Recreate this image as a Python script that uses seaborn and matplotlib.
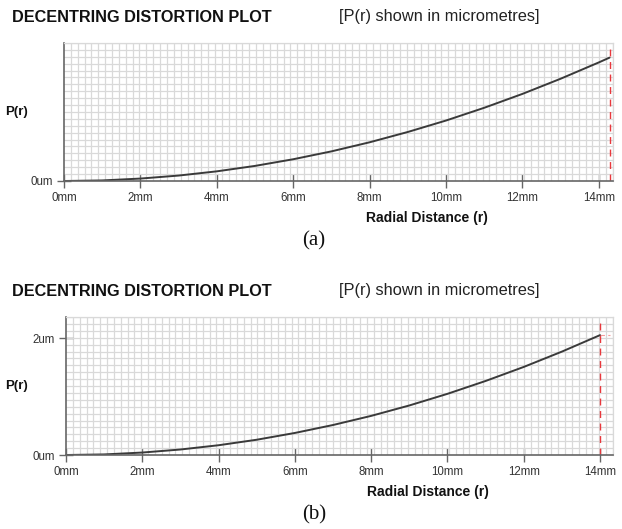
import numpy as np
import pandas as pd
import matplotlib
matplotlib.use("Agg")
import matplotlib.pyplot as plt
import seaborn as sns

# values (radius in mm, P(r) in micrometres)
radius_a = [0, 1, 2, 3, 4, 5, 6, 7, 8, 9, 10, 11, 12, 13, 14, 14.28]
p_r_a = [0, 0.007, 0.030, 0.067, 0.119, 0.186, 0.268, 0.365, 0.477, 0.604,
         0.745, 0.902, 1.073, 1.260, 1.461, 1.52]
radius_b = [0, 1, 2, 3, 4, 5, 6, 7, 8, 9, 10, 11, 12, 13, 14]
p_r_b = [0, 0.010, 0.042, 0.094, 0.167, 0.261, 0.377, 0.513, 0.669, 0.847,
         1.046, 1.266, 1.506, 1.768, 2.05]

x_ticks = [0, 2, 4, 6, 8, 10, 12, 14]
x_tick_labels = ["0mm", "2mm", "4mm", "6mm", "8mm", "10mm", "12mm", "14mm"]
y_ticks_a = [0]
y_tick_labels_a = ["0um"]
y_ticks_b = [0, 2]
y_tick_labels_b = ["0um", "2um"]
cut_a = 14.28   # red dashed marker, panel a
cut_b = 14      # red dashed marker, panel b

title = "DECENTRING DISTORTION PLOT"
subtitle = "[P(r) shown in micrometres]"

sns.set_theme(style="white")
plt.rcParams['font.family'] = ['Liberation Sans', 'DejaVu Sans']

W, H = 622, 529
fig = plt.figure(figsize=(W / 100, H / 100), dpi=100)

grid_col = "#d9d9d9"
spine_col = "#666666"
txt_col = "#333333"


def draw_panel(rect, r, p, xmax, ymax, yt, ytl, cut, top_px, tag, stub):
    ax = fig.add_axes(rect)
    df = pd.DataFrame({"r": r, "p": p})
    sns.lineplot(data=df, x="r", y="p", ax=ax, color="#3a3a3a", linewidth=1.4)
    ax.set_xlim(0, xmax)
    ax.set_ylim(0, ymax)
    # paper-like background grid
    ax.set_xticks(np.linspace(0, xmax, 81), minor=True)
    ax.set_yticks(np.linspace(0, ymax, 21), minor=True)
    ax.grid(False)
    ax.grid(True, which="minor", color=grid_col, linewidth=0.9)
    ax.set_axisbelow(True)
    ax.set_xticks(x_ticks)
    ax.set_xticklabels(x_tick_labels)
    ax.set_yticks(yt)
    ax.set_yticklabels(ytl)
    ax.tick_params(which="minor", length=0, bottom=False, left=False)
    ax.tick_params(which="major", bottom=True, left=True, direction="inout",
                   length=10, width=1, color=spine_col, labelsize=8.3,
                   labelcolor=txt_col, pad=3)
    for s in ["left", "bottom"]:
        ax.spines[s].set_color(spine_col)
        ax.spines[s].set_linewidth(1.2)
    for s in ["top", "right"]:
        ax.spines[s].set_color(grid_col)
        ax.spines[s].set_linewidth(0.9)
    ax.axvline(cut, color="#e8383d", linestyle=(0, (5, 4)), linewidth=1)
    if stub:
        ax.hlines(p[-1], cut, cut + 0.25, color="#e8383d", linestyle=(0, (4, 3)),
                  linewidth=0.8, alpha=0.5)
    ax.set_xlabel("Radial Distance (r)", fontsize=10, fontweight="bold",
                  color="#111111", va="center")
    ax.xaxis.set_label_coords(0.661, -0.268)
    ax.set_ylabel("")

    fig.text(12 / W, 1 - (top_px - 26) / H, title, fontsize=11.7,
             fontweight="bold", color="#111111", va="center", ha="left")
    fig.text(339 / W, 1 - (top_px - 26) / H, subtitle, fontsize=11.8,
             color="#222222", va="center", ha="left")
    fig.text(5 / W, 1 - (top_px + 69) / H, "P(r)", fontsize=9.5,
             fontweight="bold", color="#111111", va="center", ha="left")
    fig.text(314 / W, 1 - (top_px + 198) / H, tag, fontsize=15,
             family=["Liberation Serif", "DejaVu Serif"], color="#111111",
             va="center", ha="center")
    return ax


# panel (a)
draw_panel([64 / W, 1 - 181 / H, 549 / W, 138 / H], radius_a, p_r_a,
           14.37, 1.70, y_ticks_a, y_tick_labels_a, cut_a, 43, "(a)", False)
# panel (b)
draw_panel([66 / W, 1 - 455 / H, 547 / W, 138 / H], radius_b, p_r_b,
           14.34, 2.36, y_ticks_b, y_tick_labels_b, cut_b, 317, "(b)", True)

plt.savefig("out.png", dpi=100)
